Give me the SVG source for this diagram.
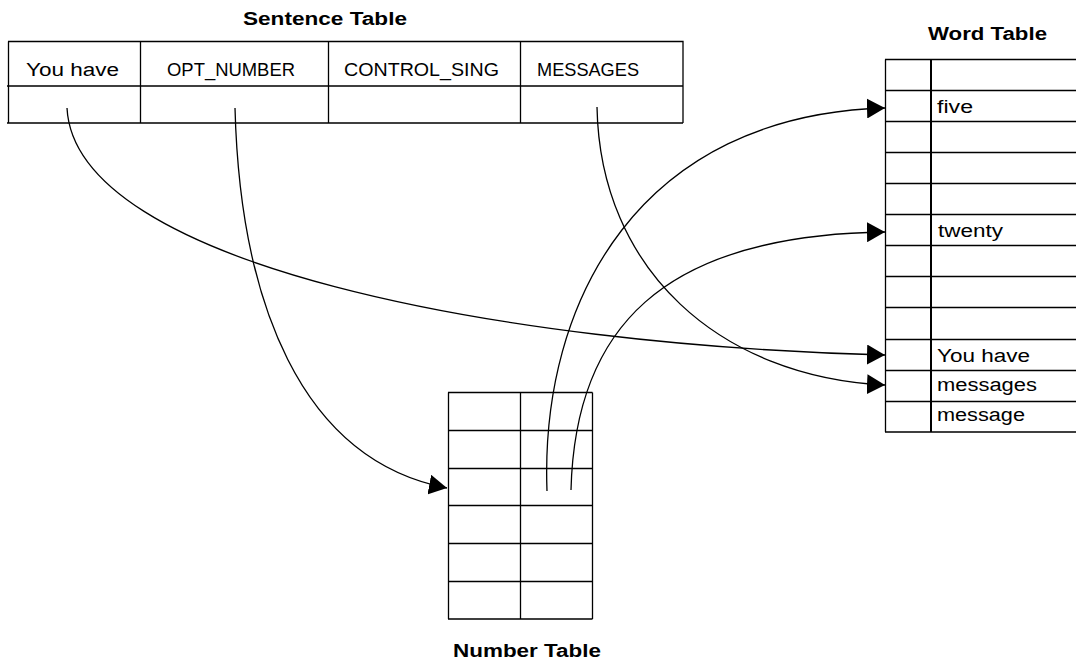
<svg xmlns="http://www.w3.org/2000/svg" width="1076" height="659" viewBox="0 0 1076 659">
<style>
.bg{fill:#fff}
.ln{stroke:#000;stroke-width:1.3;fill:none}
.thick{stroke:#000;stroke-width:2;fill:none}
.cv{stroke:#000;stroke-width:1.3;fill:none}
.t{font-family:"Liberation Sans",Arial,sans-serif;font-size:18px;fill:#000}
.h{font-family:"Liberation Sans",Arial,sans-serif;font-size:18px;font-weight:bold;fill:#000}
</style>
<defs>
<marker id="ah" viewBox="0 0 18 20" refX="18" refY="10" markerWidth="18" markerHeight="20" markerUnits="userSpaceOnUse" orient="auto">
<path d="M0,0 L18,10 L0,20 z" fill="#000"/>
</marker>
</defs>
<rect class="bg" x="0" y="0" width="1076" height="659"/>

<g id="sentence-table">
<text class="h" x="243" y="25" textLength="164" lengthAdjust="spacingAndGlyphs">Sentence Table</text>
<path class="ln" d="M8,41.5 H683 V123 M7,86 H683 M7,123 H683 M8.5,41.5 V123 M140.5,41.5 V123 M328.5,41.5 V123 M520.5,41.5 V123"/>
<text class="t" x="26" y="76" textLength="93" lengthAdjust="spacingAndGlyphs">You have</text>
<text class="t" x="167" y="76" textLength="128" lengthAdjust="spacingAndGlyphs">OPT_NUMBER</text>
<text class="t" x="344" y="76" textLength="155" lengthAdjust="spacingAndGlyphs">CONTROL_SING</text>
<text class="t" x="537" y="76" textLength="102" lengthAdjust="spacingAndGlyphs">MESSAGES</text>
</g>

<g id="word-table">
<text class="h" x="928" y="40" textLength="119" lengthAdjust="spacingAndGlyphs">Word Table</text>
<path class="ln" d="M885.5,59.5 V432 M885,59.5 H1076 M885,90.5 H1076 M885,121.5 H1076 M885,152.5 H1076 M885,183.5 H1076 M885,214.5 H1076 M885,245.5 H1076 M885,276.5 H1076 M885,307.5 H1076 M885,339.5 H1076 M885,370.5 H1076 M885,401.5 H1076 M885,432 H1076"/>
<path class="thick" d="M931,59 V432"/>
<text class="t" x="937" y="113" textLength="36" lengthAdjust="spacingAndGlyphs">five</text>
<text class="t" x="938" y="237" textLength="65" lengthAdjust="spacingAndGlyphs">twenty</text>
<text class="t" x="937" y="362" textLength="93" lengthAdjust="spacingAndGlyphs">You have</text>
<text class="t" x="937" y="391" textLength="100" lengthAdjust="spacingAndGlyphs">messages</text>
<text class="t" x="937" y="421" textLength="88" lengthAdjust="spacingAndGlyphs">message</text>
</g>

<g id="number-table">
<path class="ln" d="M448.5,392.5 V619 M520.5,392.5 V619 M592.5,392.5 V619 M448,392.5 H592.5 M448,430.5 H592.5 M448,468.5 H592.5 M448,505.5 H592.5 M448,543.5 H592.5 M448,581.5 H592.5 M448,619 H592.5"/>
<text class="h" x="453" y="657" textLength="148" lengthAdjust="spacingAndGlyphs">Number Table</text>
</g>

<g id="connectors">
<path class="cv" d="M67,108 C75,265 500,345 885,355" marker-end="url(#ah)"/>
<path class="cv" d="M235,108 C240,300 300,460 447,488" marker-end="url(#ah)"/>
<path class="cv" d="M597,107 C600,270 720,377 885,385" marker-end="url(#ah)"/>
<path class="cv" d="M547,491 C540,300 640,115 885,108" marker-end="url(#ah)"/>
<path class="cv" d="M571,490 C575,330 660,235 885,232" marker-end="url(#ah)"/>
</g>
</svg>
